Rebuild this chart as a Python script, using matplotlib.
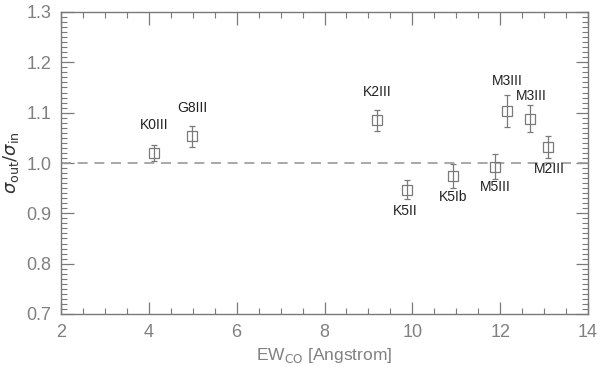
import matplotlib
matplotlib.use("Agg")
import matplotlib.pyplot as plt
from matplotlib.ticker import MultipleLocator

# Data
stars = ["K0III", "G8III", "K2III", "K5II", "K5Ib", "M5III", "M3III", "M3III", "M2III"]
ew_co = [4.11, 4.98, 9.19, 9.88, 10.92, 11.88, 12.16, 12.69, 13.10]
ratio = [1.019, 1.053, 1.085, 0.947, 0.974, 0.993, 1.104, 1.088, 1.031]
ratio_err = [0.016, 0.021, 0.021, 0.019, 0.024, 0.024, 0.032, 0.027, 0.022]
label_x = [4.13, 5.00, 9.19, 9.85, 10.93, 11.89, 12.17, 12.70, 13.13]
label_y = [1.076, 1.110, 1.141, 0.904, 0.933, 0.953, 1.162, 1.133, 0.988]

plt.rcParams['font.family'] = ['Liberation Sans', 'DejaVu Sans']
plt.rcParams['mathtext.fontset'] = 'dejavusans'

gray = '#7a7a7a'
fig = plt.figure(figsize=(6.0, 3.67), dpi=100)
ax = fig.add_axes([61/600, 1 - 314/367, (588-61)/600, (314-12)/367])

ax.errorbar(ew_co, ratio, yerr=ratio_err, fmt='s', mfc='none', mec=gray,
            ms=7, mew=0.9, ecolor=gray, elinewidth=0.9, capsize=2.5, capthick=0.9)
ax.axhline(1.0, color='#999999', lw=1.2, ls=(0, (6, 4)))

for s, lx, ly in zip(stars, label_x, label_y):
    ax.text(lx, ly, s, ha='center', va='center', fontsize=10, color='#222222')

ax.set_xlim(2, 14)
ax.set_ylim(0.7, 1.3)
ax.xaxis.set_major_locator(MultipleLocator(2))
ax.xaxis.set_minor_locator(MultipleLocator(0.5))
ax.yaxis.set_major_locator(MultipleLocator(0.1))
ax.yaxis.set_minor_locator(MultipleLocator(0.01))
ax.yaxis.set_major_formatter(matplotlib.ticker.FormatStrFormatter('%.1f'))

ax.tick_params(which='both', direction='in', top=True, right=True, color=gray,
               labelcolor='#808080', labelsize=13)
ax.tick_params(which='major', length=9, width=0.9, pad=7)
ax.tick_params(which='minor', length=4.5, width=0.8)
for sp in ax.spines.values():
    sp.set_color(gray)
    sp.set_linewidth(1.0)

ax.set_xlabel(r'EW$_{\rm CO}$ [Angstrom]', fontsize=12.5, color='#808080', labelpad=4)
ax.set_ylabel(r'$\sigma_{\rm out}/\sigma_{\rm in}$', fontsize=13, color='#333333', labelpad=4)

fig.savefig('out.png', dpi=100)
